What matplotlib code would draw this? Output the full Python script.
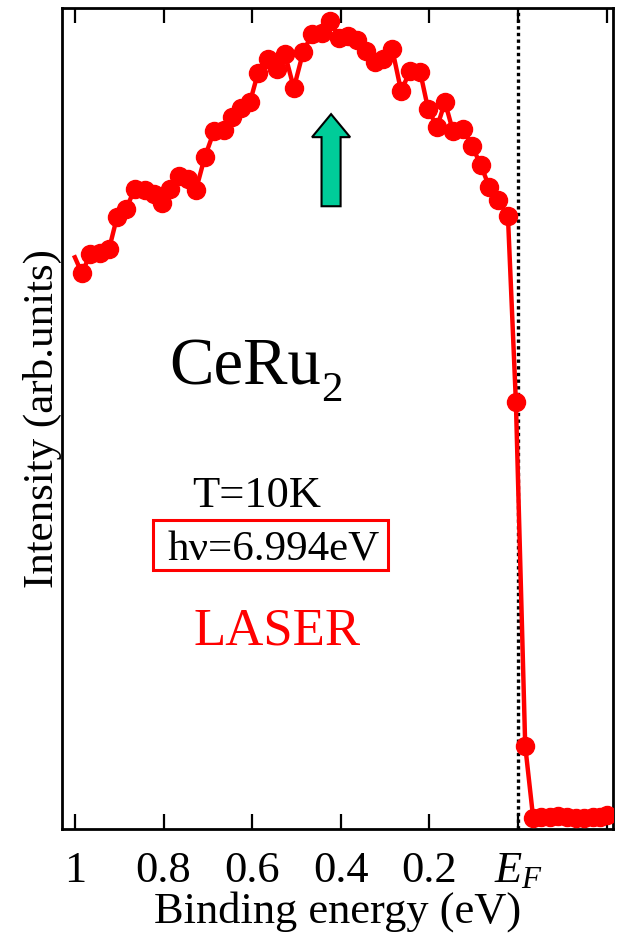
import matplotlib
matplotlib.use("Agg")
import matplotlib.pyplot as plt
from matplotlib.patches import FancyArrow, Rectangle

plt.rcParams["font.family"] = ["Liberation Serif", "DejaVu Serif"]
plt.rcParams["mathtext.fontset"] = "custom"
plt.rcParams["mathtext.rm"] = "Liberation Serif"
plt.rcParams["mathtext.it"] = "Liberation Serif:italic"

# binding energy (eV) and photoemission intensity (arb. units)
energy = [1.000, 0.984, 0.966, 0.944, 0.923, 0.905, 0.885, 0.865, 0.842, 0.822,
          0.804, 0.786, 0.765, 0.745, 0.727, 0.707, 0.686, 0.664, 0.646, 0.625,
          0.605, 0.587, 0.564, 0.544, 0.526, 0.506, 0.485, 0.465, 0.442, 0.424,
          0.404, 0.384, 0.363, 0.343, 0.323, 0.305, 0.284, 0.264, 0.244, 0.221,
          0.203, 0.183, 0.165, 0.147, 0.124, 0.104, 0.084, 0.065, 0.045, 0.023,
          0.005, -0.016, -0.034, -0.052, -0.072, -0.090, -0.111, -0.131, -0.149,
          -0.169, -0.185, -0.201]
intensity = [57.1, 55.5, 57.4, 57.5, 57.9, 61.1, 61.9, 63.9, 63.8, 63.4,
             62.5, 63.9, 65.2, 64.9, 63.8, 67.1, 69.7, 69.8, 71.1, 72.0,
             72.6, 75.5, 76.9, 75.9, 77.4, 74.0, 77.6, 79.4, 79.5, 80.7,
             79.0, 79.2, 78.8, 77.7, 76.6, 76.9, 77.9, 73.7, 75.7, 75.6,
             71.9, 70.1, 72.6, 69.7, 69.9, 68.2, 66.3, 64.1, 62.8, 61.2,
             42.6, 8.3, 1.1, 1.2, 1.2, 1.3, 1.2, 1.1, 1.1,
             1.2, 1.2, 1.4]

tick_pos = [1.0, 0.8, 0.6, 0.4, 0.2, 0.0, -0.2]
tick_lbl = ["1", "0.8", "0.6", "0.4", "0.2", "$E_F$", ""]

fig = plt.figure(figsize=(6.22, 9.41), dpi=100)
ax = fig.add_axes([0.0997, 0.119, 0.8858, 0.8725])

ax.axvline(0.0, color="black", linestyle=(0, (1, 1)), linewidth=2.4, zorder=1)
ax.plot(energy, intensity, color="red", linewidth=3.2, marker="o",
        markersize=13, markevery=slice(1, None), zorder=3)

# arrow marking the peak
ax.add_patch(FancyArrow(0.422, 62.2, 0, 9.2, width=0.043, head_width=0.086,
                        head_length=2.3, length_includes_head=True,
                        facecolor="#00cc99", edgecolor="black",
                        linewidth=1.5, zorder=4))

ax.text(0.786, 44.4, "CeRu", fontsize=48, ha="left", va="baseline")
ax.text(0.444, 42.7, "2", fontsize=31, ha="left", va="baseline")
ax.text(0.736, 32.2, "T=10K", fontsize=32, ha="left", va="baseline")
ax.text(0.79, 26.8, "h\u03bd=6.994eV", fontsize=31, ha="left", va="baseline")
ax.add_patch(Rectangle((0.824, 25.9), -0.531, 5.0, fill=False,
                       edgecolor="red", linewidth=2.2, zorder=2))
ax.text(0.732, 18.4, "LASER", fontsize=38, color="red", ha="left", va="baseline")

ax.set_xlim(1.029, -0.214)
ax.set_ylim(0, 82)
ax.set_xticks(tick_pos)
ax.set_xticklabels(tick_lbl)
ax.set_yticks([])
ax.tick_params(axis="x", direction="in", length=11, width=1.6,
               labelsize=32, top=True, pad=16)
for s in ax.spines.values():
    s.set_linewidth(2)

ax.set_xlabel("Binding energy (eV)", fontsize=32, labelpad=0)
ax.set_ylabel("Intensity (arb.units)", fontsize=31, labelpad=0)

fig.savefig("out.png", dpi=100)
